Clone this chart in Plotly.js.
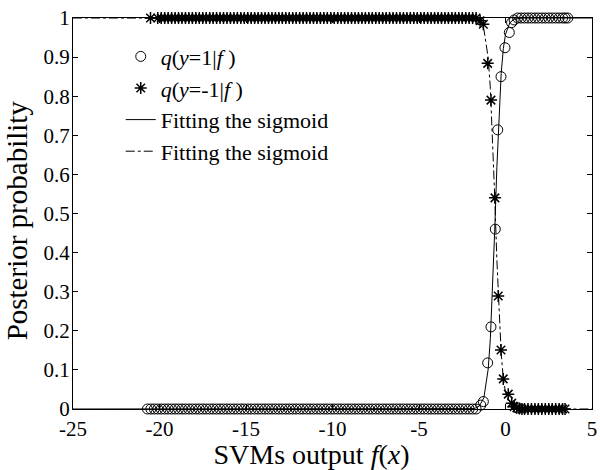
<!DOCTYPE html>
<html>
<head>
<meta charset="utf-8">
<script src="https://cdn.plot.ly/plotly-3.0.1.min.js"></script>
<style>html,body{margin:0;padding:0;background:#fff;}#chart{width:600px;height:470px;}</style>
</head>
<body>
<div id="chart"></div>
<script>
// q(y=1|f) samples (circles)
const posX = [-20.7,-20.5,-20.3,-20.1,-19.9,-19.7,-19.5,-19.3,-19.1,-18.9,-18.7,-18.5,-18.3,-18.1,-17.9,-17.7,-17.5,-17.3,-17.1,-16.9,-16.7,-16.5,-16.3,-16.1,-15.9,-15.7,-15.5,-15.3,-15.1,-14.9,-14.7,-14.5,-14.3,-14.1,-13.9,-13.7,-13.5,-13.3,-13.1,-12.9,-12.7,-12.5,-12.3,-12.1,-11.9,-11.7,-11.5,-11.3,-11.1,-10.9,-10.7,-10.5,-10.3,-10.1,-9.9,-9.7,-9.5,-9.3,-9.1,-8.9,-8.7,-8.5,-8.3,-8.1,-7.9,-7.7,-7.5,-7.3,-7.1,-6.9,-6.7,-6.5,-6.3,-6.1,-5.9,-5.7,-5.5,-5.3,-5.1,-4.9,-4.7,-4.5,-4.3,-4.1,-3.9,-3.7,-3.5,-3.3,-3.1,-2.9,-2.7,-2.5,-2.3,-2.1,-1.9,-1.7,
  -1.43,-1.28,-1.03,-0.84,-0.59,-0.45,-0.26,-0.03,0.22,0.35,
  0.5,0.7,0.9,1.1,1.3,1.5,1.7,1.9,2.1,2.3,2.5,2.7,2.9,3.1,3.3,3.45,3.6];
const posY = [0,0,0,0,0,0,0,0,0,0,0,0,0,0,0,0,0,0,0,0,0,0,0,0,0,0,0,0,0,0,0,0,0,0,0,0,0,0,0,0,0,0,0,0,0,0,0,0,0,0,0,0,0,0,0,0,0,0,0,0,0,0,0,0,0,0,0,0,0,0,0,0,0,0,0,0,0,0,0,0,0,0,0,0,0,0,0,0,0,0,0,0,0,0,0,0,
  0.01,0.019,0.118,0.21,0.46,0.714,0.85,0.924,0.963,0.988,
  0.995,1,1,1,1,1,1,1,1,1,1,1,1,1,1,1,1];

// q(y=-1|f) samples (stars)
const negX = [-20.52,-20.1,-19.9,-19.7,-19.5,-19.3,-19.1,-18.9,-18.7,-18.5,-18.3,-18.1,-17.9,-17.7,-17.5,-17.3,-17.1,-16.9,-16.7,-16.5,-16.3,-16.1,-15.9,-15.7,-15.5,-15.3,-15.1,-14.9,-14.7,-14.5,-14.3,-14.1,-13.9,-13.7,-13.5,-13.3,-13.1,-12.9,-12.7,-12.5,-12.3,-12.1,-11.9,-11.7,-11.5,-11.3,-11.1,-10.9,-10.7,-10.5,-10.3,-10.1,-9.9,-9.7,-9.5,-9.3,-9.1,-8.9,-8.7,-8.5,-8.3,-8.1,-7.9,-7.7,-7.5,-7.3,-7.1,-6.9,-6.7,-6.5,-6.3,-6.1,-5.9,-5.7,-5.5,-5.3,-5.1,-4.9,-4.7,-4.5,-4.3,-4.1,-3.9,-3.7,-3.5,-3.3,-3.1,-2.9,-2.7,-2.5,-2.3,-2.1,-1.9,-1.7,
  -1.47,-1.28,-1.03,-0.84,-0.61,-0.42,-0.26,-0.13,0.16,0.36,
  0.5,0.65,0.8,0.95,1.1,1.3,1.5,1.7,1.9,2.1,2.3,2.5,2.7,2.9,3.1,3.3,3.44];
const negY = [1,1,1,1,1,1,1,1,1,1,1,1,1,1,1,1,1,1,1,1,1,1,1,1,1,1,1,1,1,1,1,1,1,1,1,1,1,1,1,1,1,1,1,1,1,1,1,1,1,1,1,1,1,1,1,1,1,1,1,1,1,1,1,1,1,1,1,1,1,1,1,1,1,1,1,1,1,1,1,1,1,1,1,1,1,1,1,1,1,1,1,1,1,1,
  0.993,0.984,0.884,0.79,0.54,0.289,0.151,0.077,0.038,0.015,
  0.006,0.003,0.001,0,0,0,0,0,0,0,0,0,0,0,0,0,0];

// fitted sigmoid curves
const fitX = [-25,-3,-2.5,-2,-1.75,-1.5,-1.25,-1,-0.875,-0.75,-0.625,-0.5,-0.375,-0.25,-0.125,0,0.25,0.5,1,2,5];
const fitPosY = [0,0,0,0.001,0.002,0.008,0.029,0.102,0.18,0.3,0.455,0.617,0.757,0.858,0.922,0.958,0.988,0.997,1,1,1];
const fitNegY = [1,1,1,0.999,0.998,0.992,0.971,0.898,0.82,0.7,0.545,0.383,0.243,0.142,0.078,0.042,0.012,0.003,0,0,0];

const xTicks = [-25,-20,-15,-10,-5,0,5];
const xTickText = ['-25','-20','-15','-10','-5','0','5'];
const yTicks = [0,0.1,0.2,0.3,0.4,0.5,0.6,0.7,0.8,0.9,1];
const yTickText = ['0','0.1','0.2','0.3','0.4','0.5','0.6','0.7','0.8','0.9','1'];

const FONT = 'Liberation Serif, Times New Roman, serif';

const traces = [
  {x: posX, y: posY, mode: 'markers', type: 'scatter', cliponaxis: false,
   name: '<i>q</i>(<i>y</i>=1|<i>f</i> )',
   marker: {symbol: 'circle-open', size: 10, color: '#000', line: {width: 1, color: '#000'}}},
  {x: negX, y: negY, mode: 'markers', type: 'scatter', cliponaxis: false,
   name: '<i>q</i>(<i>y</i>=-1|<i>f</i> )',
   marker: {symbol: 'asterisk-open', size: 10, color: '#000', line: {width: 1.5, color: '#000'}}},
  {x: fitX, y: fitPosY, mode: 'lines', type: 'scatter', cliponaxis: false,
   name: 'Fitting the sigmoid', line: {color: '#000', width: 1}},
  {x: fitX, y: fitNegY, mode: 'lines', type: 'scatter', cliponaxis: false,
   name: 'Fitting the sigmoid', line: {color: '#000', width: 1, dash: 'dashdot'}}
];

const layout = {
  width: 600, height: 470,
  margin: {l: 73, r: 8, t: 18, b: 61},
  paper_bgcolor: '#fff', plot_bgcolor: '#fff',
  font: {family: FONT, size: 21, color: '#000'},
  showlegend: true,
  legend: {x: 0.092, y: 0.955, xanchor: 'left', yanchor: 'top', bgcolor: 'rgba(0,0,0,0)',
           borderwidth: 0, font: {family: FONT, size: 22, color: '#000'}, tracegroupgap: 0},
  xaxis: {range: [-25, 5], tickvals: xTicks, ticktext: xTickText, ticks: 'inside', ticklen: 5, tickcolor: '#000',
          showline: true, linecolor: '#000', linewidth: 1, mirror: 'ticks', showgrid: false, zeroline: false,
          tickfont: {family: FONT, size: 21}, ticklabelstandoff: 1,
          title: {text: 'SVMs output <i>f</i>(<i>x</i>)&nbsp;&nbsp;&nbsp;&nbsp;&nbsp;&nbsp;', font: {family: FONT, size: 28}, standoff: 3}},
  yaxis: {range: [0, 1], tickvals: yTicks, ticktext: yTickText, ticks: 'inside', ticklen: 5, tickcolor: '#000',
          showline: true, linecolor: '#000', linewidth: 1, mirror: 'ticks', showgrid: false, zeroline: false,
          tickfont: {family: FONT, size: 21}, ticklabelstandoff: -2,
          title: {text: 'Posterior probability&nbsp;&nbsp;', font: {family: FONT, size: 29}, standoff: 7}}
};

Plotly.newPlot('chart', traces, layout, {displayModeBar: false, staticPlot: true});
</script>
</body>
</html>
